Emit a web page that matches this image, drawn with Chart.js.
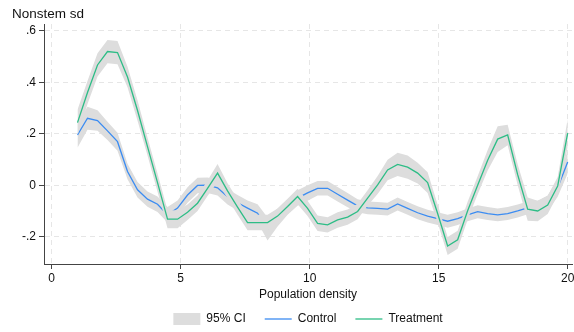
<!DOCTYPE html>
<html lang="en">
<head>
<meta charset="UTF-8">
<title>Nonstem sd by population density</title>
<script src="https://cdn.jsdelivr.net/npm/chart.js"></script>
<style>
  html, body { margin: 0; padding: 0; background: #fff; }
  canvas { display: block; }
</style>
</head>
<body>
<canvas id="chart" width="574" height="332" style="width:574px;height:332px"></canvas>
<script>
// x grid: 50 evaluation points between 1 and 20
const density = [1.000, 1.388, 1.776, 2.163, 2.551, 2.939, 3.327, 3.714, 4.102, 4.490,
                 4.878, 5.265, 5.653, 6.041, 6.429, 6.816, 7.204, 7.592, 7.980, 8.367,
                 8.755, 9.143, 9.531, 9.918, 10.306, 10.694, 11.082, 11.469, 11.857, 12.245,
                 12.633, 13.020, 13.408, 13.796, 14.184, 14.571, 14.959, 15.347, 15.735, 16.122,
                 16.510, 16.898, 17.286, 17.673, 18.061, 18.449, 18.837, 19.224, 19.612, 20.000];

const control = [0.195, 0.260, 0.251, 0.211, 0.169, 0.053, -0.018, -0.054, -0.074, -0.115,
                 -0.089, -0.038, -0.001, 0.000, -0.010, -0.045, -0.068, -0.089, -0.109, -0.170,
                 -0.125, -0.085, -0.050, -0.030, -0.012, -0.012, -0.035, -0.058, -0.080, -0.088,
                 -0.090, -0.093, -0.073, -0.090, -0.107, -0.120, -0.130, -0.140, -0.130, -0.115,
                 -0.103, -0.110, -0.115, -0.110, -0.100, -0.088, -0.090, -0.070, -0.010, 0.090];
const controlLo = [0.145, 0.215, 0.211, 0.176, 0.134, 0.023, -0.048, -0.084, -0.104, -0.145,
                   -0.119, -0.068, -0.031, -0.030, -0.040, -0.075, -0.098, -0.119, -0.144, -0.215,
                   -0.160, -0.115, -0.080, -0.060, -0.040, -0.040, -0.063, -0.086, -0.105, -0.113,
                   -0.115, -0.118, -0.098, -0.115, -0.132, -0.145, -0.155, -0.165, -0.155, -0.140,
                   -0.128, -0.135, -0.140, -0.135, -0.125, -0.113, -0.120, -0.100, -0.045, 0.045];
const controlHi = [0.245, 0.305, 0.291, 0.246, 0.204, 0.083, 0.012, -0.024, -0.044, -0.085,
                   -0.059, -0.008, 0.029, 0.030, 0.020, -0.015, -0.038, -0.059, -0.074, -0.125,
                   -0.090, -0.055, -0.020, 0.000, 0.016, 0.016, -0.007, -0.030, -0.055, -0.063,
                   -0.065, -0.068, -0.048, -0.065, -0.082, -0.095, -0.105, -0.115, -0.105, -0.090,
                   -0.078, -0.085, -0.090, -0.085, -0.075, -0.063, -0.060, -0.040, 0.025, 0.135];

const treatment = [0.243, 0.360, 0.467, 0.519, 0.515, 0.420, 0.290, 0.150, 0.010, -0.132,
                   -0.132, -0.105, -0.070, -0.012, 0.047, -0.022, -0.085, -0.145, -0.145, -0.145,
                   -0.120, -0.083, -0.044, -0.090, -0.148, -0.154, -0.135, -0.124, -0.102, -0.050,
                   0.001, 0.059, 0.081, 0.070, 0.047, 0.010, -0.110, -0.236, -0.212, -0.099,
                   0.000, 0.097, 0.179, 0.195, 0.041, -0.093, -0.100, -0.077, -0.003, 0.202];
const treatmentLo = [0.193, 0.315, 0.422, 0.474, 0.470, 0.380, 0.250, 0.115, -0.025, -0.167,
                     -0.167, -0.135, -0.100, -0.042, 0.012, -0.052, -0.115, -0.175, -0.175, -0.175,
                     -0.150, -0.113, -0.074, -0.120, -0.178, -0.184, -0.165, -0.154, -0.132, -0.080,
                     -0.034, 0.019, 0.036, 0.025, 0.007, -0.030, -0.145, -0.271, -0.247, -0.134,
                     -0.035, 0.057, 0.129, 0.155, 0.001, -0.138, -0.140, -0.112, -0.038, 0.147];
const treatmentHi = [0.293, 0.405, 0.512, 0.564, 0.560, 0.460, 0.330, 0.185, 0.045, -0.097,
                     -0.097, -0.075, -0.040, 0.018, 0.082, 0.008, -0.055, -0.115, -0.115, -0.115,
                     -0.090, -0.053, -0.014, -0.060, -0.118, -0.124, -0.105, -0.094, -0.072, -0.020,
                     0.036, 0.099, 0.126, 0.115, 0.087, 0.050, -0.075, -0.201, -0.177, -0.064,
                     0.035, 0.137, 0.229, 0.235, 0.081, -0.048, -0.060, -0.042, 0.032, 0.257];

const xTicks = [0, 5, 10, 15, 20];
const yTicks = [-0.2, 0, 0.2, 0.4, 0.6];
const yTickLabels = ['-.2', '0', '.2', '.4', '.6'];

const BLUE = '#3b8cf2';
const GREEN = '#2dbd86';
const CI = '#dddddd';
const TEXT = '#111111';
const AXIS = '#444444';

Chart.defaults.font.family = '"Liberation Sans", Arial, Helvetica, sans-serif';
Chart.defaults.color = TEXT;

const pts = arr => density.map((x, i) => ({ x: x, y: arr[i] }));

const bandDs = (arr, fill, order) => ({
    data: pts(arr), fill: fill, backgroundColor: CI, borderColor: 'rgba(0,0,0,0)',
    borderWidth: 0, pointRadius: 0, pointHoverRadius: 0, order: order
});
const lineDs = (label, arr, color, order) => ({
    label: label, data: pts(arr), fill: false, borderColor: color, backgroundColor: color,
    borderWidth: 1.3, pointRadius: 0, pointHoverRadius: 0, order: order
});

const legendItems = [
    { text: '95% CI', fillStyle: CI, strokeStyle: CI, lineWidth: 0, pointStyle: 'rect', hidden: false, fontColor: TEXT },
    { text: 'Control', fillStyle: BLUE, strokeStyle: BLUE, lineWidth: 1.3, pointStyle: 'line', hidden: false, fontColor: TEXT },
    { text: 'Treatment', fillStyle: GREEN, strokeStyle: GREEN, lineWidth: 1.3, pointStyle: 'line', hidden: false, fontColor: TEXT }
];

const gridCommon = {
    color: '#e6e6e6',
    lineWidth: 1,
    tickLength: 5,
    tickColor: AXIS,
    tickWidth: 1,
    tickBorderDash: []
};

new Chart(document.getElementById('chart').getContext('2d'), {
    type: 'line',
    data: {
        datasets: [
            bandDs(controlHi, '+1', 3),
            bandDs(controlLo, false, 3),
            lineDs('Control', control, BLUE, 2),
            bandDs(treatmentHi, '+1', 1),
            bandDs(treatmentLo, false, 1),
            lineDs('Treatment', treatment, GREEN, 0)
        ]
    },
    options: {
        responsive: false,
        animation: false,
        devicePixelRatio: 1,
        layout: { padding: { left: 12, right: 2, top: 0, bottom: -3 } },
        scales: {
            x: {
                type: 'linear',
                min: -0.298,
                max: 20.167,
                afterBuildTicks: s => { s.ticks = xTicks.map(v => ({ value: v })); },
                afterFit: s => { s.height = 30; s.paddingLeft = 0; s.paddingRight = 0; },
                ticks: { font: { size: 12 }, color: TEXT, padding: 2, maxRotation: 0, autoSkip: false },
                grid: gridCommon,
                border: { display: true, color: AXIS, width: 1, dash: [5, 4] },
                title: { display: true, text: 'Population density', font: { size: 12 }, color: TEXT, padding: { top: 0, bottom: -8 } }
            },
            y: {
                type: 'linear',
                min: -0.306,
                max: 0.626,
                afterBuildTicks: s => { s.ticks = yTicks.map(v => ({ value: v })); },
                afterFit: s => { s.width = 32; s.paddingTop = 0; s.paddingBottom = 0; },
                ticks: {
                    font: { size: 12 }, color: TEXT, padding: 3, autoSkip: false,
                    callback: v => yTickLabels[yTicks.findIndex(t => Math.abs(t - v) < 1e-9)]
                },
                grid: gridCommon,
                border: { display: true, color: AXIS, width: 1, dash: [5, 4] }
            }
        },
        plugins: {
            title: {
                display: true, text: 'Nonstem sd', align: 'start', color: TEXT,
                font: { size: 13.5, weight: 'normal' }, padding: { top: 6, bottom: 1.8 }
            },
            legend: {
                position: 'bottom',
                fullSize: false,
                onClick: null,
                labels: {
                    usePointStyle: true, pointStyleWidth: 27, boxWidth: 27, boxHeight: 12,
                    padding: 19, color: TEXT, font: { size: 12 },
                    generateLabels: () => legendItems
                }
            },
            tooltip: { enabled: false }
        }
    }
});
</script>
</body>
</html>
